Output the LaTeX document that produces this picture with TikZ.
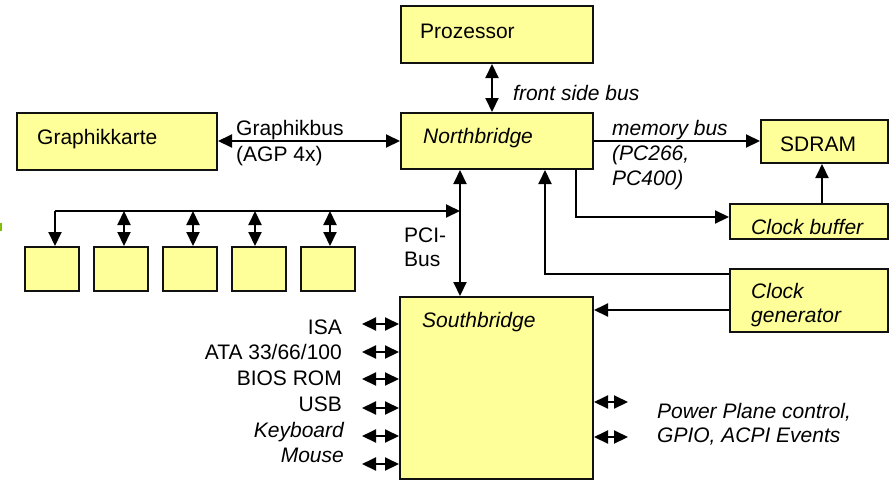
\documentclass[tikz,border=0pt]{standalone}
\usepackage{fontspec}
\setmainfont{Liberation Sans}
\usetikzlibrary{arrows.meta}
\definecolor{boxfill}{HTML}{FFFF99}
\definecolor{boxline}{HTML}{111111}
\definecolor{markgreen}{HTML}{80C000}
\tikzset{
  blk/.style={draw=boxline, line width=2pt, fill=boxfill, inner sep=0pt, anchor=north west},
  lbl/.style={inner sep=0pt, anchor=base west, font=\fontsize{21}{25}\selectfont},
  lblr/.style={inner sep=0pt, anchor=base east, font=\fontsize{21}{25}\selectfont},
  conn/.style={line width=2pt, draw=black},
  one/.style={conn, -{Triangle[length=14pt,width=13pt]}},
  dbl/.style={conn, {Triangle[length=14pt,width=13pt]}-{Triangle[length=14pt,width=13pt]}},
}
\begin{document}
\begin{tikzpicture}[x=1pt,y=-1pt]
\useasboundingbox (0,0) rectangle (890,480);
\fill[markgreen] (0,223) rectangle (2,231);

% boxes
\node[blk, minimum width=192pt, minimum height=57pt] (proz) at (400,5) {};
\node[blk, minimum width=192pt, minimum height=56pt] (nb) at (400,112) {};
\node[blk, minimum width=200pt, minimum height=57pt] (gk) at (16,112) {};
\node[blk, minimum width=127pt, minimum height=43pt] (sdram) at (760,119) {};
\node[blk, minimum width=158pt, minimum height=35pt] (cbuf) at (729,203) {};
\node[blk, minimum width=158pt, minimum height=63pt] (cgen) at (729,268) {};
\node[blk, minimum width=193pt, minimum height=182pt] (sb) at (399,296) {};
\node[blk, minimum width=54pt, minimum height=44pt] (p1) at (24,246) {};
\node[blk, minimum width=54pt, minimum height=44pt] (p2) at (93,246) {};
\node[blk, minimum width=54pt, minimum height=44pt] (p3) at (162,246) {};
\node[blk, minimum width=54pt, minimum height=44pt] (p4) at (231,246) {};
\node[blk, minimum width=54pt, minimum height=44pt] (p5) at (300,246) {};

% box texts
\node[lbl] (tproz) at (420,38) {Prozessor};
\node[lbl] (tnb) at (423,143) {\itshape Northbridge};
\node[lbl] (tgk) at (37,144) {Graphikkarte};
\node[lbl] (tsdram) at (780,151) {SDRAM};
\node[lbl] (tcbuf) at (751,234) {\itshape Clock buffer};
\node[lbl] (tcgen1) at (751,298) {\itshape Clock};
\node[lbl] (tcgen2) at (751,322) {\itshape generator};
\node[lbl] (tsb) at (422,327) {\itshape Southbridge};

% connector labels
\node[lbl] (lfsb) at (513,100) {\itshape front side bus};
\node[lbl] (lgb1) at (236,135) {Graphikbus};
\node[lbl] (lgb2) at (236,161) {(AGP 4x)};
\node[lbl] (lmb1) at (612,135) {\itshape memory bus};
\node[lbl] (lmb2) at (612,160) {\itshape (PC266,};
\node[lbl] (lmb3) at (612,185) {\itshape PC400)};
\node[lbl] (lpci1) at (404,242) {PCI-};
\node[lbl] (lpci2) at (404,266) {Bus};
\node[lblr] (lisa) at (342,334) {ISA};
\node[lblr] (lata) at (342,359) {ATA 33/66/100};
\node[lblr] (lbios) at (342,385) {BIOS ROM};
\node[lblr] (lusb) at (342,411) {USB};
\node[lblr] (lkb) at (344,437) {\itshape Keyboard};
\node[lblr] (lms) at (344,462) {\itshape Mouse};
\node[lbl] (lpp1) at (657,418) {\itshape Power Plane control,};
\node[lbl] (lpp2) at (657,442) {\itshape GPIO, ACPI Events};

% connectors
\draw[dbl] (proz.south -| 492,0) -- (nb.north -| 492,0);
\draw[dbl] (gk.east |- 0,141) -- (nb.west |- 0,141);
\draw[one] (nb.east |- 0,141) -- (sdram.west |- 0,141);
\draw[one] (cbuf.north -| 822,0) -- (sdram.south -| 822,0);
\draw[one] (nb.south -| 576,0) |- (cbuf.west |- 0,217);
\draw[one] (cgen.west |- 0,274) -| (nb.south -| 545,0);
\draw[one] (cgen.west |- 0,310) -- (sb.east |- 0,310);
\draw[dbl] (nb.south -| 460,0) -- (sb.north -| 460,0);

% PCI bus
\coordinate (pcil) at (55,211);
\coordinate (pcir) at (460,211);
\draw[conn] (p1.north -| pcil) ++(0,-12) -- (pcil);
\draw[one] (pcil) -- (pcir);
\draw[one] (pcil) -- (p1.north -| pcil);
\draw[dbl] (124,211) -- (p2.north -| 124,0);
\draw[dbl] (193,211) -- (p3.north -| 193,0);
\draw[dbl] (255,211) -- (p4.north -| 255,0);
\draw[dbl] (330,211) -- (p5.north -| 330,0);

% southbridge side ports
\foreach \yy/\nm in {324/a,352/b,379/c,408/d,436/e,464/f}{
  \coordinate (sp\nm) at (362,\yy);
  \draw[dbl] (sp\nm) -- (sb.west |- sp\nm);
}
\foreach \yy/\nm in {402/a,437/b}{
  \coordinate (rp\nm) at (628,\yy);
  \draw[dbl] (sb.east |- rp\nm) -- (rp\nm);
}
\end{tikzpicture}
\end{document}
